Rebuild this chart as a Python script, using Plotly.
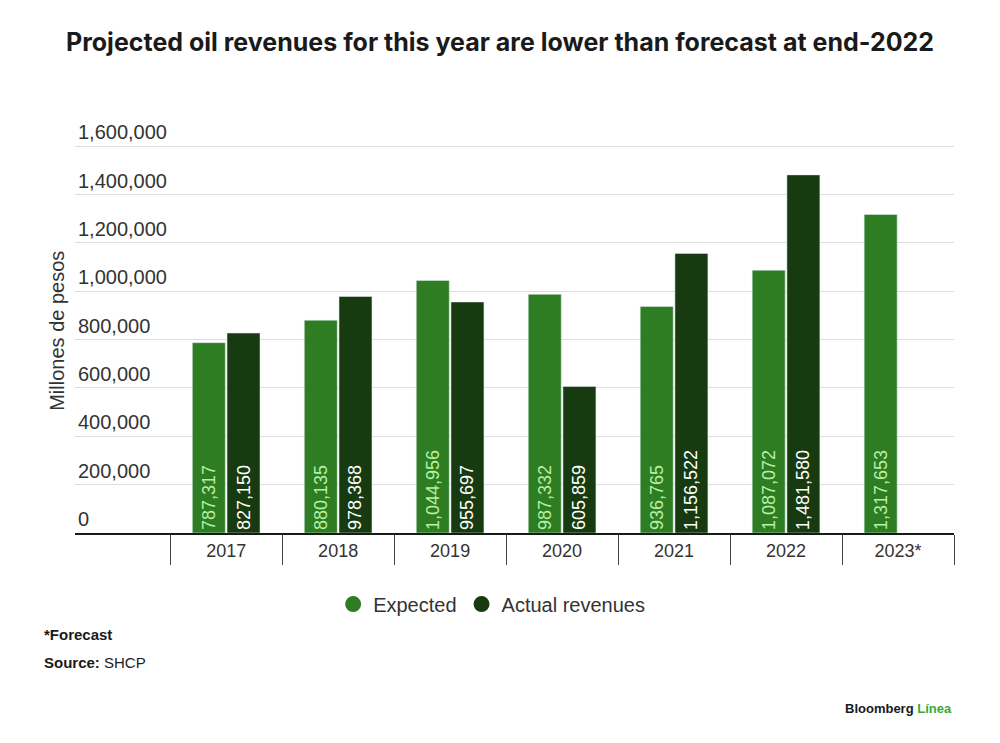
import plotly.graph_objects as go

years = ["2017", "2018", "2019", "2020", "2021", "2022", "2023*"]
expected = [787317, 880135, 1044956, 987332, 936765, 1087072, 1317653]
actual = [827150, 978368, 955697, 605859, 1156522, 1481580, None]

exp_color = "#2e7d22"
act_color = "#173a10"

fig = go.Figure()

fig.add_trace(go.Bar(
    x=years, y=expected, name="Expected",
    marker=dict(color=exp_color),
    text=[f"{v:,}" for v in expected],
    textposition="inside", insidetextanchor="start", textangle=-90,
    textfont=dict(family="Liberation Sans", size=18, color="#b8f0a4"),
    constraintext="none", showlegend=False,
))
fig.add_trace(go.Bar(
    x=years, y=actual, name="Actual revenues",
    marker=dict(color=act_color),
    text=[f"{v:,}" if v is not None else "" for v in actual],
    textposition="inside", insidetextanchor="start", textangle=-90,
    textfont=dict(family="Liberation Sans", size=18, color="#ffffff"),
    constraintext="none", showlegend=False,
))

# legend entries with round markers
for name, color in [("Expected", exp_color), ("Actual revenues", act_color)]:
    fig.add_trace(go.Scatter(
        x=[None], y=[None], mode="markers", name=name,
        marker=dict(color=color, size=18, symbol="circle"),
    ))

# page body adds an 8px offset, margins compensate for it
fig.update_layout(
    width=1000, height=743,
    paper_bgcolor="white", plot_bgcolor="white",
    margin=dict(l=67, r=54, t=102, b=218),
    barmode="group", bargap=0.38, bargroupgap=0.05,
    font=dict(family="Liberation Sans", size=18, color="#333333"),
    title=dict(
        text="<b>Projected oil revenues for this year are lower than forecast at end-2022</b>",
        x=0.492, xanchor="center", y=1 - 34 / 743, yanchor="middle",
        font=dict(family="Inter", size=25, color="#1a1a1a"),
    ),
    legend=dict(
        orientation="h", x=0.474, xanchor="center", y=-0.168, yanchor="middle",
        font=dict(size=20, color="#333333"), itemwidth=30,
    ),
    xaxis=dict(
        range=[-1.35, 6.5], showgrid=False,
        showline=True, linecolor="#1a1a1a", linewidth=2,
        ticks="outside", tickson="boundaries", ticklen=30, tickwidth=1,
        tickcolor="#444444", tickfont=dict(size=18, color="#333333"),
    ),
    yaxis=dict(
        range=[0, 1750000], tickvals=[0, 200000, 400000, 600000, 800000,
                                      1000000, 1200000, 1400000, 1600000],
        tickformat=",", ticklabelposition="inside top",
        showgrid=True, gridcolor="#dddddd", gridwidth=1,
        zeroline=False, showline=False,
        tickfont=dict(size=20, color="#333333"),
    ),
    annotations=[
        dict(text="Millones de pesos", textangle=-90, xref="paper", yref="paper",
             x=-0.0205, y=0.478, showarrow=False, xanchor="center", yanchor="middle",
             font=dict(size=20, color="#333333")),
        dict(text="<b>*Forecast</b>", xref="paper", yref="paper",
             x=-0.0375, y=-0.239, showarrow=False, xanchor="left", yanchor="middle",
             font=dict(size=15, color="#1a1a1a")),
        dict(text="<b>Source:</b> SHCP", xref="paper", yref="paper",
             x=-0.0375, y=-0.307, showarrow=False, xanchor="left", yanchor="middle",
             font=dict(size=15, color="#1a1a1a")),
        dict(text="<b>Bloomberg <span style='color:#3aa935'>Línea</span></b>",
             xref="paper", yref="paper", x=1.0, y=-0.416, showarrow=False,
             xanchor="right", yanchor="middle",
             font=dict(size=13, color="#1a1a1a")),
    ],
)

fig.write_html("out.html")
